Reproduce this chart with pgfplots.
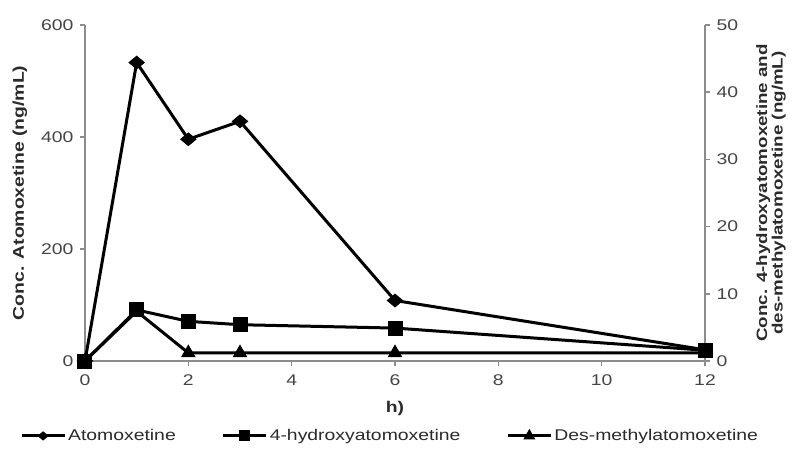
\documentclass[border=0pt]{standalone}
\usepackage{fontspec}
\setmainfont{Liberation Sans}[FakeStretch=1.25]
\usepackage{pgfplots}
\pgfplotsset{compat=1.18}
\definecolor{axgray}{HTML}{8C8C8C}
\definecolor{tkgray}{HTML}{454545}
\definecolor{lbgray}{HTML}{2A2A2A}
\begin{document}
\begin{tikzpicture}[font=\fontsize{15.5bp}{18bp}\selectfont]
\useasboundingbox (-85bp,-89bp) rectangle (710bp,361bp);
\pgfplotsset{
 common/.style={scale only axis, width=620bp, height=336bp, xmin=0, xmax=12, clip=false,
   axis line style={axgray, line width=1.4bp, -}, tick style={axgray, line width=1.4bp},
   major tick length=5bp, tick align=outside,
   /pgf/number format/assume math mode=true,
   ticklabel style={text=tkgray, font=\fontsize{15.5bp}{18bp}\selectfont},
   label style={text=lbgray, font=\bfseries\fontsize{15.5bp}{16bp}\selectfont},
   at={(0,0)}, anchor=south west},
}
\begin{axis}[common, ymin=0, ymax=600, axis x line*=bottom, axis y line*=left,
 xtick={0,2,...,12}, ytick={0,200,400,600},
 xticklabel style={yshift=-5bp}, yticklabel style={xshift=-3bp},
 xlabel={h)}, xlabel style={at={(axis description cs:0.5,-0.14)}, anchor=center},
 ylabel={Conc. Atomoxetine (ng/mL)}, ylabel style={at={(axis description cs:-0.1048,0.5)}, anchor=center},
]
\addplot[black, line width=3bp, mark=diamond*, mark size=6.3bp, mark options={solid, xscale=1.6, line width=1bp}]
 coordinates {(0,0)(1,533)(2,396)(3,428)(6,108)(12,20)};
\end{axis}
\begin{axis}[common, ymin=0, ymax=50, axis x line=none, axis y line*=right,
 ytick={0,10,...,50}, yticklabel style={xshift=3bp},
 ylabel={Conc. 4-hydroxyatomoxetine and\\des-methylatomoxetine (ng/mL)},
 ylabel style={align=center, font=\bfseries\fontsize{15bp}{15.5bp}\selectfont, at={(axis description cs:1.1065,0.5)}, anchor=center},
 legend style={at={(axis description cs:-0.105,-0.223)}, anchor=west, draw=none, fill=none,
   inner sep=0pt, legend columns=3, text=lbgray, font=\fontsize{15.5bp}{18bp}\selectfont,
   /tikz/every even column/.append style={column sep=44bp}},
 legend image code/.code={\draw[mark repeat=2, mark phase=2, #1] plot coordinates {(0bp,0bp)(21.5bp,0bp)(43bp,0bp)};},
]
\addplot[black, line width=3bp, mark=square*, mark size=7bp, mark options={solid, line width=1bp}, forget plot]
 coordinates {(0,0)(1,7.6)(2,5.9)(3,5.4)(6,4.9)(12,1.6)};
\addplot[black, line width=3bp, mark=triangle*, mark size=7.5bp, mark options={solid, line width=1bp}, forget plot]
 coordinates {(0,0)(1,7.4)(2,1.2)(3,1.2)(6,1.2)(12,1.2)};
\addlegendimage{black, line width=3bp, mark=diamond*, mark size=4bp, mark options={solid, xscale=1.6, line width=1bp}}
\addlegendentry{Atomoxetine}
\addlegendimage{black, line width=3bp, mark=square*, mark size=5bp, mark options={solid, line width=1bp}}
\addlegendentry{4-hydroxyatomoxetine}
\addlegendimage{black, line width=3bp, mark=triangle*, mark size=6bp, mark options={solid, line width=1bp}}
\addlegendentry{Des-methylatomoxetine}
\end{axis}
\end{tikzpicture}
\end{document}
